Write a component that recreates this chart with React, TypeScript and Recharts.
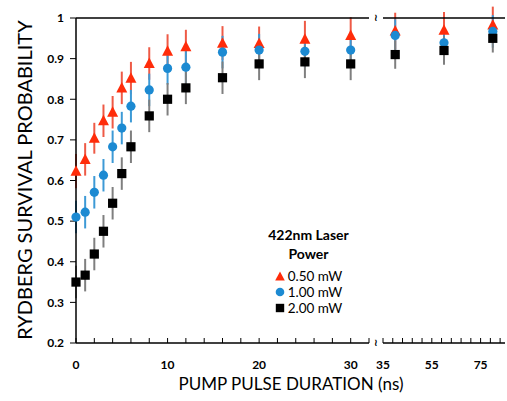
import React from 'react';
import { ScatterChart, Scatter, XAxis, YAxis, ErrorBar } from 'recharts';

const FONT = 'Lato, "Open Sans", "DejaVu Sans", sans-serif';

// pump pulse durations (ns)
const leftX = [0, 1, 2, 3, 4, 5, 6, 8, 10, 12, 16, 20, 25, 30];
const rightX = [40, 60, 80];

// survival probability per series (left points then right points)
const p050 = [0.623, 0.652, 0.704, 0.747, 0.768, 0.828, 0.852, 0.888, 0.918, 0.929, 0.938, 0.937, 0.948, 0.957, 0.968, 0.970, 0.983];
const p100 = [0.510, 0.522, 0.571, 0.613, 0.683, 0.729, 0.783, 0.823, 0.876, 0.879, 0.916, 0.921, 0.918, 0.921, 0.957, 0.939, 0.967];
const p200 = [0.350, 0.367, 0.419, 0.475, 0.544, 0.617, 0.683, 0.759, 0.800, 0.828, 0.853, 0.887, 0.892, 0.887, 0.910, 0.920, 0.950];

const e050 = [0.042, 0.04, 0.038, 0.04, 0.04, 0.04, 0.04, 0.04, 0.042, 0.042, 0.042, 0.042, 0.045, 0.045, 0.045, 0.045, 0.045];
const e100 = [0.04, 0.04, 0.04, 0.04, 0.04, 0.04, 0.04, 0.04, 0.04, 0.04, 0.04, 0.04, 0.04, 0.04, 0.04, 0.04, 0.04];
const e200 = [0.04, 0.04, 0.04, 0.04, 0.04, 0.04, 0.04, 0.04, 0.04, 0.04, 0.04, 0.04, 0.04, 0.04, 0.035, 0.035, 0.035];

const seriesNames = ['0.50 mW', '1.00 mW', '2.00 mW'];
const legendTitle = ['422nm Laser', 'Power'];

const yTicks = [0.2, 0.3, 0.4, 0.5, 0.6, 0.7, 0.8, 0.9, 1];
const leftTicks = [0, 2, 4, 6, 8, 10, 12, 14, 16, 18, 20, 22, 24, 26, 28, 30, 32];
const leftLabels = [0, 10, 20, 30];
const rightTicks = [35, 39, 43, 47, 51, 55, 59, 63, 67, 71, 75, 79, 83];
const rightLabels = [35, 55, 75];

const RED = '#FF2C0A';
const RED_BAR = '#EE5A46';
const BLUE = '#1C8AD2';
const BLUE_BAR = '#3D9AD6';
const BLACK = '#000000';
const BLACK_BAR = '#7F7F7F';

const build = (xs: number[], ys: number[], es: number[], off: number) =>
  xs.map((x, i) => ({ x, y: ys[i + off], e: es[i + off] }));

const leftRed = build(leftX, p050, e050, 0);
const leftBlue = build(leftX, p100, e100, 0);
const leftBlack = build(leftX, p200, e200, 0);
const rightRed = build(rightX, p050, e050, leftX.length);
const rightBlue = build(rightX, p100, e100, leftX.length);
const rightBlack = build(rightX, p200, e200, leftX.length);

const Tri = (props: any) => {
  const { cx, cy, fill } = props;
  if (cx == null || cy == null) return null;
  return <polygon points={`${cx},${cy - 6} ${cx + 5.5},${cy + 4.5} ${cx - 5.5},${cy + 4.5}`} fill={fill} />;
};
const Circ = (props: any) => {
  const { cx, cy, fill } = props;
  if (cx == null || cy == null) return null;
  return <circle cx={cx} cy={cy} r={4.6} fill={fill} />;
};
const Sq = (props: any) => {
  const { cx, cy, fill } = props;
  if (cx == null || cy == null) return null;
  return <rect x={cx - 4.6} y={cy - 4.6} width={9.2} height={9.2} fill={fill} />;
};

const tickStyle = { fill: '#000', fontSize: 12, fontWeight: 700, fontFamily: FONT };
const axisLine = { stroke: '#000', strokeWidth: 1.5 };
const tickLine = { stroke: '#000', strokeWidth: 1 };

const LegendBox = () => (
  <div style={{ position: 'absolute', left: 251, top: 225, fontFamily: FONT, color: '#000', textAlign: 'center', width: 115 }}>
    <div style={{ fontWeight: 700, fontSize: 14, lineHeight: '19px' }}>{legendTitle[0]}</div>
    <div style={{ fontWeight: 700, fontSize: 14, lineHeight: '19px', marginBottom: 5 }}>{legendTitle[1]}</div>
    {seriesNames.map((n, i) => (
      <div key={n} style={{ fontSize: 13.5, lineHeight: '16px', display: 'flex', alignItems: 'center', justifyContent: 'center' }}>
        <svg width={10} height={10} style={{ marginRight: 3 }}>
          {i === 0 && <polygon points="5,0.5 9.8,9.5 0.2,9.5" fill={RED} />}
          {i === 1 && <circle cx={5} cy={5} r={4.3} fill={BLUE} />}
          {i === 2 && <rect x={0.8} y={0.8} width={8.4} height={8.4} fill={BLACK} />}
        </svg>
        <span>{n}</span>
      </div>
    ))}
  </div>
);

const seriesSet = (r: any[], b: any[], k: any[]) => [
  <Scatter key="r" name={seriesNames[0]} data={r} fill={RED} shape={Tri} isAnimationActive={false}>
    <ErrorBar dataKey="e" direction="y" width={0} stroke={RED_BAR} strokeWidth={2} isAnimationActive={false} />
  </Scatter>,
  <Scatter key="b" name={seriesNames[1]} data={b} fill={BLUE} shape={Circ} isAnimationActive={false}>
    <ErrorBar dataKey="e" direction="y" width={0} stroke={BLUE_BAR} strokeWidth={2} isAnimationActive={false} />
  </Scatter>,
  <Scatter key="k" name={seriesNames[2]} data={k} fill={BLACK} shape={Sq} isAnimationActive={false}>
    <ErrorBar dataKey="e" direction="y" width={0} stroke={BLACK_BAR} strokeWidth={2} isAnimationActive={false} />
  </Scatter>,
];

const Brk = ({ top }: { top: number }) => (
  <div style={{ position: 'absolute', left: 374, top, fontFamily: '"DejaVu Sans", sans-serif', fontSize: 10, fontWeight: 700, lineHeight: '10px', color: '#000' }}>
    ≀
  </div>
);

export default function App() {
  return (
    <div style={{ position: 'absolute', left: 0, top: 0, width: 507, height: 401, background: '#fff', overflow: 'hidden' }}>
      <div style={{ position: 'absolute', left: 0, top: 0 }}>
        <ScatterChart width={380} height={401} margin={{ top: 17, right: 11, left: 20, bottom: 28 }}>
          <XAxis
            dataKey="x"
            type="number"
            domain={[0, 32]}
            ticks={leftTicks}
            interval={0}
            height={30}
            tickSize={-5}
            tickMargin={22}
            axisLine={axisLine}
            tickLine={tickLine}
            tick={tickStyle}
            tickFormatter={(v: number) => (leftLabels.includes(v) ? String(v) : '')}
          />
          <XAxis
            xAxisId="top"
            orientation="top"
            type="number"
            domain={[0, 32]}
            ticks={leftTicks}
            interval={0}
            height={1}
            tickSize={-5}
            axisLine={axisLine}
            tickLine={tickLine}
            tick={false}
          />
          <YAxis
            dataKey="y"
            type="number"
            domain={[0.2, 1]}
            allowDataOverflow
            ticks={yTicks}
            interval={0}
            width={56}
            tickSize={6}
            tickMargin={6}
            axisLine={axisLine}
            tickLine={tickLine}
            tick={tickStyle}
            tickFormatter={(v: number) => (v === 1 ? '1' : v.toFixed(1))}
          />
          {seriesSet(leftRed, leftBlue, leftBlack)}
        </ScatterChart>
      </div>
      <div style={{ position: 'absolute', left: 360, top: 0 }}>
        <ScatterChart width={147} height={401} margin={{ top: 17, right: 2, left: 23, bottom: 28 }}>
          <XAxis
            dataKey="x"
            type="number"
            domain={[35, 85]}
            ticks={rightTicks}
            interval={0}
            height={30}
            tickSize={-5}
            tickMargin={22}
            axisLine={axisLine}
            tickLine={tickLine}
            tick={tickStyle}
            tickFormatter={(v: number) => (rightLabels.includes(v) ? String(v) : '')}
          />
          <XAxis
            xAxisId="top"
            orientation="top"
            type="number"
            domain={[35, 85]}
            ticks={rightTicks}
            interval={0}
            height={1}
            tickSize={-5}
            axisLine={axisLine}
            tickLine={tickLine}
            tick={false}
          />
          <YAxis dataKey="y" type="number" domain={[0.2, 1]} allowDataOverflow hide width={0} />
          {seriesSet(rightRed, rightBlue, rightBlack)}
        </ScatterChart>
      </div>
      <LegendBox />
      <Brk top={338} />
      <Brk top={13} />
      <div
        style={{
          position: 'absolute',
          left: 291 - 150,
          top: 373,
          width: 300,
          textAlign: 'center',
          fontFamily: FONT,
          fontSize: 17,
          lineHeight: '22px',
          color: '#000',
        }}
      >
        PUMP PULSE DURATION (ns)
      </div>
      <div
        style={{
          position: 'absolute',
          left: 24 - 160,
          top: 180 - 12,
          width: 320,
          textAlign: 'center',
          fontFamily: FONT,
          fontSize: 20,
          lineHeight: '24px',
          color: '#000',
          transform: 'rotate(-90deg)',
          transformOrigin: '160px 12px',
        }}
      >
        RYDBERG SURVIVAL PROBABILITY
      </div>
    </div>
  );
}
